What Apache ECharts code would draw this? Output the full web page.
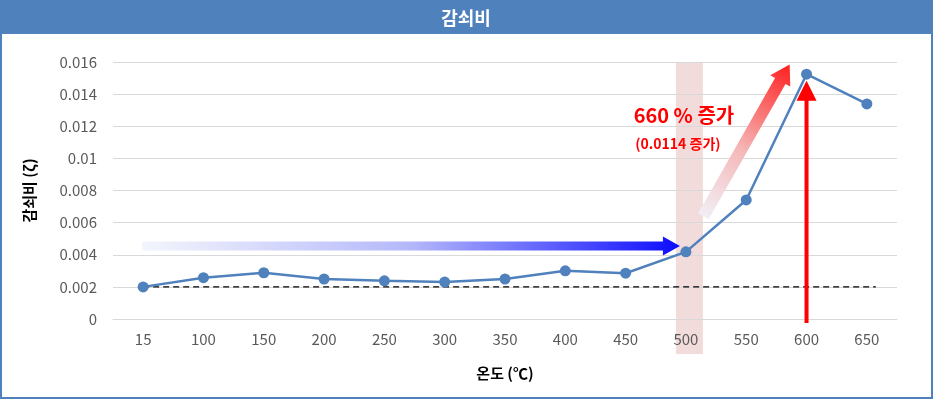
<!DOCTYPE html>
<html><head><meta charset="utf-8">
<script src="https://cdn.jsdelivr.net/npm/echarts@6/dist/echarts.min.js"></script>
<style>html,body{margin:0;padding:0;background:#fff}#c{width:933px;height:400px}</style>
</head><body><div id="c"></div>
<script>
const titleText = '감쇠비';
const categories = ['15','100','150','200','250','300','350','400','450','500','550','600','650'];
const dampingValues = [0.00200,0.00257,0.00288,0.00249,0.00238,0.00230,0.00249,0.00300,0.00285,0.00418,0.00741,0.01524,0.01339];
const yTicks = [0,0.002,0.004,0.006,0.008,0.01,0.012,0.014,0.016];
const baseline = 0.002;
const noteMain = '660 % 증가';
const noteSub = '(0.0114 증가)';
const font = '"Noto Sans CJK KR", "Noto Sans", sans-serif';

const chart = echarts.init(document.getElementById('c'));
chart.setOption({
  animation:false,
  textStyle:{fontFamily:font},
  grid:{left:113,right:36,top:62,bottom:81},
  xAxis:{type:'category',data:categories,boundaryGap:true,
    axisLine:{lineStyle:{color:'#D9D9D9'}},axisTick:{show:false},
    axisLabel:{color:'#595959',fontSize:15,margin:13,fontFamily:font},
    name:'온도 (℃)',nameLocation:'middle',nameGap:47,
    nameTextStyle:{color:'#000',fontWeight:'bold',fontSize:15,fontFamily:font}},
  yAxis:{type:'value',min:0,max:0.016,interval:0.002,
    axisLine:{show:false},axisTick:{show:false},
    splitLine:{lineStyle:{color:'#D9D9D9'}},
    axisLabel:{color:'#595959',fontSize:15,margin:16,fontFamily:font,
      formatter:v=>{const s=String(+v.toFixed(3));return yTicks.some(t=>Math.abs(t-v)<1e-9)?s:'';}},
    name:'감쇠비 (ζ)',nameLocation:'middle',nameGap:76,nameRotate:90,
    nameTextStyle:{color:'#000',fontWeight:'bold',fontSize:15,fontFamily:font}},
  series:[{type:'line',data:dampingValues,symbol:'circle',symbolSize:11,
    lineStyle:{color:'#4F81BD',width:2.5},itemStyle:{color:'#4F81BD'},z:5}]
});

function arrowPts(x1,y1,x2,y2,sw,hw,hl){
  const dx=x2-x1,dy=y2-y1,L=Math.hypot(dx,dy),ux=dx/L,uy=dy/L,px=-uy,py=ux;
  const bx=x2-ux*hl,by=y2-uy*hl;
  return [[x1+px*sw/2,y1+py*sw/2],[bx+px*sw/2,by+py*sw/2],[bx+px*hw/2,by+py*hw/2],[x2,y2],
          [bx-px*hw/2,by-py*hw/2],[bx-px*sw/2,by-py*sw/2],[x1-px*sw/2,y1-py*sw/2]];
}
const P0=(i,v)=>chart.convertToPixel({xAxisIndex:0,yAxisIndex:0},[i,v]);
const x0=P0(0,0), step=P0(1,0)[0]-x0[0];
const P=(f,v)=>[x0[0]+f*step, P0(0,v)[1]];
const x9=P(9,0), x11=P(11,0), x12=P(12,0), yTop=P(0,0.016);
const base0=P(0,baseline);
// blue arrow
const bY=P(0,0.00455)[1];
const blue=arrowPts(x0[0]-1,bY,x9[0]-6,bY,9,19,17);
// red diagonal
const d1=P(9.29,0.0064), d2=P(10.72,0.01585);
const redD=arrowPts(d1[0],d1[1],d2[0],d2[1],12,23,19);
// red vertical
const vTip=P(11,0.01484), vBot=P(11,-0.00025);
const redV=arrowPts(x11[0],vBot[1],x11[0],vTip[1],4,20,20);

chart.setOption({graphic:[
  {type:'rect',shape:{x:1,y:1,width:931,height:33},style:{fill:'#4F81BD'},z:0,silent:true},
  {type:'rect',shape:{x:1,y:1,width:931,height:397},style:{fill:'none',stroke:'#4F81BD',lineWidth:2},z:0,silent:true},
  {type:'text',x:466,y:18,style:{text:titleText,fill:'#fff',fontSize:18,fontWeight:'bold',fontFamily:font,align:'center',verticalAlign:'middle'},z:10},
  {type:'rect',shape:{x:x9[0]-10,y:yTop[1],width:27,height:x0[1]-yTop[1]+35},style:{fill:'#F2DCDB'},z:-1,silent:true},
  {type:'line',shape:{x1:x0[0],y1:base0[1],x2:x12[0]+9,y2:base0[1]},style:{stroke:'#000',lineWidth:1.2,lineDash:[6,4]},z:4,silent:true},
  {type:'polygon',shape:{points:blue},style:{fill:new echarts.graphic.LinearGradient(0,0,1,0,[{offset:0,color:'#F3F5FC'},{offset:0.5,color:'#B4B8FA'},{offset:1,color:'#0C0CFF'}])},z:6,silent:true},
  {type:'polygon',shape:{points:redD},style:{fill:new echarts.graphic.LinearGradient(0,1,1,0,[{offset:0,color:'#F0F3FA'},{offset:0.45,color:'#F5B8B8'},{offset:1,color:'#FF1F1F'}])},z:6,silent:true},
  {type:'polygon',shape:{points:redV},style:{fill:'#FF0000'},z:6,silent:true},
  {type:'text',x:x9[0]-2,y:P(9,0.0127)[1],style:{text:noteMain,fill:'#FF0000',fontSize:20,fontWeight:'bold',fontFamily:font,align:'center',verticalAlign:'middle'},z:7},
  {type:'text',x:x9[0]-8,y:P(9,0.0109)[1],style:{text:noteSub,fill:'#FF0000',fontSize:14,fontWeight:'bold',fontFamily:font,align:'center',verticalAlign:'middle'},z:7}
]});
</script></body></html>
